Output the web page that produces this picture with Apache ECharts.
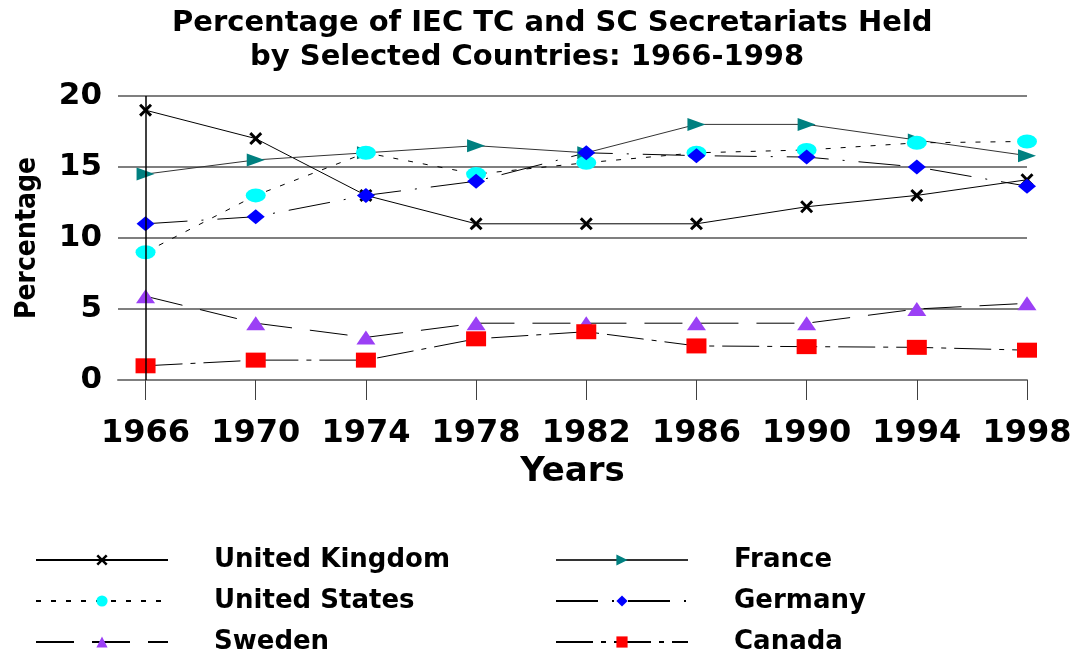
<!DOCTYPE html>
<html>
<head>
<meta charset="utf-8">
<script src="https://cdn.jsdelivr.net/npm/echarts@6/dist/echarts.min.js"></script>
<style>html,body{margin:0;padding:0;background:#fff}#c{width:1079px;height:656px}</style>
</head>
<body>
<div id="c"></div>
<script>
const years = [1966, 1970, 1974, 1978, 1982, 1986, 1990, 1994, 1998];
const unitedKingdom = [19, 17, 13, 11, 11, 11, 12.2, 13, 14.1];
const france = [14.5, 15.5, 16, 16.5, 16, 18, 18, 16.9, 15.8];
const unitedStates = [9, 13, 16, 14.5, 15.3, 16, 16.2, 16.7, 16.8];
const germany = [11, 11.5, 13, 14, 16, 15.8, 15.7, 15, 13.65];
const sweden = [5.9, 4, 3, 4, 4, 4, 4, 5, 5.4];
const canada = [1, 1.4, 1.4, 2.9, 3.4, 2.4, 2.35, 2.3, 2.1];
const yTicks = [0, 5, 10, 15, 20];
const titleLine1 = 'Percentage of IEC TC and SC Secretariats Held';
const titleLine2 = 'by Selected Countries: 1966-1998';

const pair = arr => years.map((y, i) => [y, arr[i]]);
const FONT = 'DejaVu Sans';
const xSym = 'path://M0,1.6L1.6,0L5,3.4L8.4,0L10,1.6L6.6,5L10,8.4L8.4,10L5,6.6L1.6,10L0,8.4L3.4,5Z';

function line(name, data, symbol, size, color, dash, extra) {
  return Object.assign({
    name, type: 'line', data: pair(data),
    symbol, symbolSize: size,
    itemStyle: { color: color },
    lineStyle: { color: '#000', width: 1, type: dash },
    emphasis: { disabled: true },
    animation: false
  }, extra || {});
}

const chart = echarts.init(document.getElementById('c'), null, { renderer: 'canvas' });
const legendText = { fontFamily: FONT, fontWeight: 'bold', fontSize: 26, color: '#000', lineHeight: 26, padding: [0, 0, 0, 41] };
const titleText = { fontFamily: FONT, fontWeight: 'bold', fontSize: 29, color: '#000' };
chart.setOption({
  backgroundColor: '#fff',
  animation: false,
  title: [
    { text: titleLine1, left: 172, top: 9, padding: 0, textStyle: titleText },
    { text: titleLine2, left: 250, top: 43, padding: 0, textStyle: titleText }
  ],
  grid: { left: 118, right: 52, top: 96, bottom: 276, containLabel: false },
  legend: [
    { data: ['United Kingdom', 'United States', 'Sweden'], orient: 'vertical', left: 35, top: 547, padding: 0,
      itemWidth: 132, itemHeight: 14, itemGap: 15, textStyle: legendText, selectedMode: false },
    { data: ['France', 'Germany', 'Canada'], orient: 'vertical', left: 555, top: 547, padding: 0,
      itemWidth: 132, itemHeight: 14, itemGap: 15, textStyle: legendText, selectedMode: false }
  ],
  xAxis: {
    type: 'value', min: 1965, max: 1998,
    name: 'Years', nameLocation: 'middle', nameGap: 75,
    nameTextStyle: { fontFamily: FONT, fontWeight: 'bold', fontSize: 34, color: '#000' },
    axisLine: { show: true, lineStyle: { color: '#7f7f7f', width: 2 } },
    axisTick: { show: true, customValues: years, length: 20, lineStyle: { color: '#404040', width: 1 } },
    axisLabel: { customValues: years, formatter: v => String(v), margin: 38, fontFamily: FONT, fontWeight: 'bold', fontSize: 32, color: '#000' },
    splitLine: { show: false }
  },
  yAxis: {
    type: 'value', min: 0, max: 20, interval: 5,
    name: 'Percentage', nameLocation: 'middle', nameGap: 76, nameRotate: 90,
    nameTextStyle: { fontFamily: "'DejaVu Sans Condensed', sans-serif", fontWeight: 'bold', fontSize: 28, color: '#000' },
    axisLine: { show: false }, axisTick: { show: false },
    axisLabel: { margin: 16, fontFamily: FONT, fontWeight: 'bold', fontSize: 31, color: '#000' },
    splitLine: { show: true, lineStyle: { color: '#7f7f7f', width: 2 } }
  },
  series: [
    line('United Kingdom', unitedKingdom, xSym, 13, '#000', 'solid', {
      markLine: { silent: true, symbol: 'none', label: { show: false }, animation: false,
        lineStyle: { color: '#000', width: 1.5, type: 'solid' }, data: [{ xAxis: years[0] }] }
    }),
    line('France', france, 'triangle', [13, 18], '#008080', 'solid', { symbolRotate: -90, lineStyle: { color: '#333', width: 1, type: 'solid' } }),
    line('United States', unitedStates, 'circle', [20, 14], '#00FFFF', [5, 10]),
    line('Germany', germany, 'diamond', [18, 15], '#0000FF', [42, 14, 2, 14]),
    line('Sweden', sweden, 'triangle', [19, 14], '#9B40F5', [38, 18]),
    line('Canada', canada, 'rect', [20, 15], '#FF0000', [37, 8, 5, 8])
  ]
});
</script>
</body>
</html>
